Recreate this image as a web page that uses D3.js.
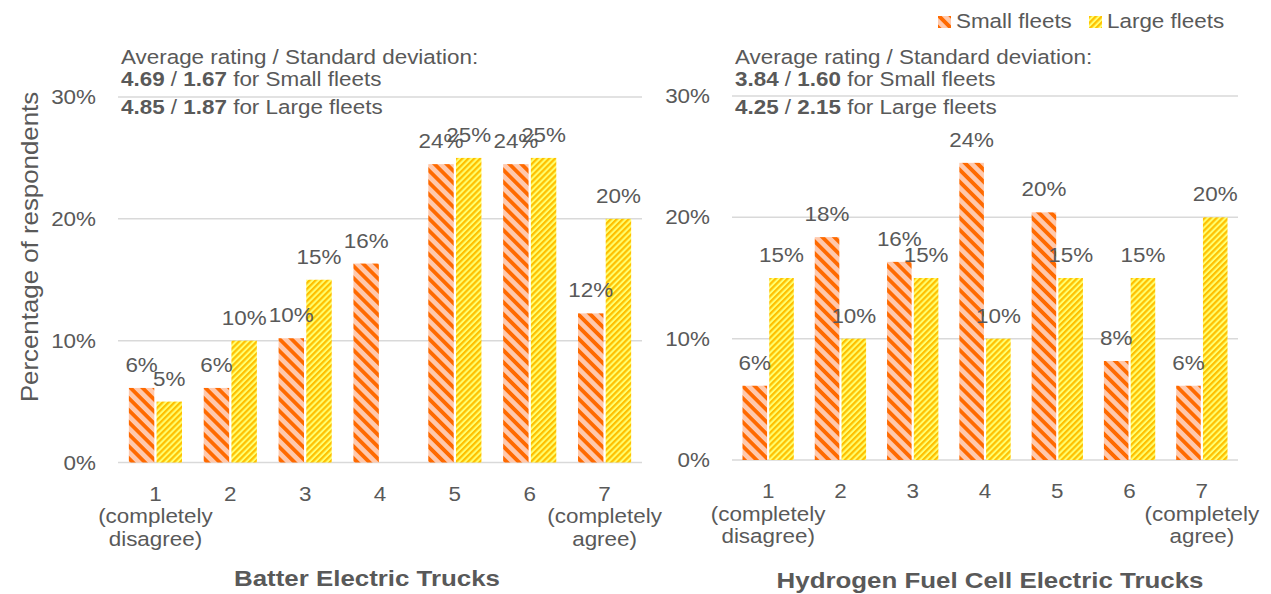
<!DOCTYPE html>
<html>
<head>
<meta charset="utf-8">
<script src="https://cdn.jsdelivr.net/npm/d3@7"></script>
<style>
  html, body { margin: 0; padding: 0; background: #ffffff; }
  svg { display: block; font-family: "Liberation Sans", Arial, sans-serif; }
</style>
</head>
<body>
<svg id="chart" width="1271" height="594"></svg>
<script>
// ---- data ----
const ratings = ["1", "2", "3", "4", "5", "6", "7"];
const ratingLabels = [
  ["1", "(completely", "disagree)"], ["2"], ["3"], ["4"], ["5"], ["6"],
  ["7", "(completely", "agree)"]
];
const seriesNames = ["Small fleets", "Large fleets"];
const batterySmall = [6.12, 6.12, 10.20, 16.33, 24.49, 24.49, 12.24];
const batteryLarge = [5, 10, 15, 0, 25, 25, 20];
const hydrogenSmall = [6.12, 18.37, 16.33, 24.49, 20.41, 8.16, 6.12];
const hydrogenLarge = [15, 10, 15, 10, 15, 15, 20];
const yTicks = [0, 10, 20, 30];
const batteryStats = [["4.69", "1.67"], ["4.85", "1.87"]];
const hydrogenStats = [["3.84", "1.60"], ["4.25", "2.15"]];
const panelTitles = ["Batter Electric Trucks", "Hydrogen Fuel Cell Electric Trucks"];

// ---- style ----
const TEXT = "#595959";
const GRID = "#d9d9d9";
const FS = 19.5;      // base font size
const SX = 1.15;      // horizontal widening of the lettering
const W = 1271, H = 594;

const svg = d3.select("#chart");
const defs = svg.append("defs");

// hatch fills for the two fleet sizes
function hatch(id, bg, fg, period, stripe, angle) {
  const p = defs.append("pattern")
    .attr("id", id)
    .attr("patternUnits", "userSpaceOnUse")
    .attr("width", period).attr("height", period)
    .attr("patternTransform", `rotate(${angle})`);
  p.append("rect").attr("width", period).attr("height", period).attr("fill", bg);
  p.append("rect").attr("width", period).attr("height", stripe).attr("fill", fg);
}
hatch("hatch-small", "#ffc9ad", "#ff6a00", 8.5, 3.8, 45);
hatch("hatch-large", "#ffff70", "#ffc000", 4.2, 2.2, -45);
const fills = { "Small fleets": "url(#hatch-small)", "Large fleets": "url(#hatch-large)" };

// text helper: widened lettering anchored at (x, y)
function txt(parent, x, y, s, opts = {}) {
  const rot = opts.rotate ? ` rotate(${opts.rotate})` : "";
  const sx = opts.sx || SX;
  return parent.append("text")
    .attr("transform", `translate(${x},${y})${rot} scale(${sx},1)`)
    .attr("text-anchor", opts.anchor || "middle")
    .attr("font-size", opts.size || FS)
    .attr("font-weight", opts.weight || "normal")
    .attr("fill", TEXT)
    .text(s);
}

const panels = [
  { small: batterySmall, large: batteryLarge, stats: batteryStats, title: panelTitles[0],
    x0: 118, x1: 642, yBase: 462.5, yTop: 97, titleX: 367, titleY: 586 },
  { small: hydrogenSmall, large: hydrogenLarge, stats: hydrogenStats, title: panelTitles[1],
    x0: 732, x1: 1238, yBase: 460, yTop: 96, titleX: 990, titleY: 588 }
];

const pct = d3.format(".0%");

panels.forEach(p => {
  const g = svg.append("g");
  const x = d3.scaleBand().domain(ratings).range([p.x0, p.x1]).paddingInner(0).paddingOuter(0);
  const bw = x.bandwidth();
  const barW = bw * 0.326, gap = bw * 0.058;
  const inner = d3.scaleBand().domain(seriesNames)
    .range([(bw - 2 * barW - gap) / 2, (bw + 2 * barW + gap) / 2])
    .paddingInner(gap / (2 * barW + gap)).paddingOuter(0);
  const y = d3.scaleLinear().domain([0, 30]).range([p.yBase, p.yTop]);

  // gridlines
  g.append("g").selectAll("line").data(yTicks).join("line")
    .attr("x1", p.x0).attr("x2", p.x1)
    .attr("y1", d => y(d)).attr("y2", d => y(d))
    .attr("stroke", GRID).attr("stroke-width", 1.5);

  // y tick labels
  yTicks.forEach(t => txt(g, p.x0 - 22, y(t) + FS * 0.36, pct(t / 100), { anchor: "end" }));

  // bars
  const rows = ratings.map((r, i) => ({ r, vals: [
    { s: seriesNames[0], v: p.small[i] }, { s: seriesNames[1], v: p.large[i] }] }));
  const groups = g.append("g").selectAll("g").data(rows).join("g")
    .attr("transform", d => `translate(${x(d.r)},0)`);
  groups.selectAll("rect").data(d => d.vals.filter(e => e.v > 0)).join("rect")
    .attr("x", d => inner(d.s)).attr("width", inner.bandwidth())
    .attr("y", d => y(d.v)).attr("height", d => y(0) - y(d.v))
    .attr("fill", d => fills[d.s]);

  // value labels
  rows.forEach(row => row.vals.filter(e => e.v > 0).forEach(e => {
    txt(g, x(row.r) + inner(e.s) + inner.bandwidth() / 2, y(e.v) - 16, pct(e.v / 100));
  }));

  // category labels (lines kept inside the right edge of the figure)
  ratings.forEach((r, i) => {
    ratingLabels[i].forEach((line, k) => {
      const ly = p.yBase + 38 + k * 22.5;
      const t = txt(g, x(r) + bw / 2, ly, line);
      const box = t.node().getBBox();
      const right = x(r) + bw / 2 + box.width * SX / 2;
      if (right > W - 9) {
        const cx = x(r) + bw / 2 - (right - (W - 9));
        t.attr("transform", `translate(${cx},${ly}) scale(${SX},1)`);
      }
    });
  });

  // summary statistics
  txt(g, p.x0 + 3, 64, "Average rating / Standard deviation:", { anchor: "start" });
  p.stats.forEach((st, k) => {
    const t = g.append("text")
      .attr("transform", `translate(${p.x0 + 3},${86 + k * 28}) scale(${SX},1)`)
      .attr("font-size", FS).attr("fill", TEXT);
    t.append("tspan").attr("font-weight", "bold").text(st[0]);
    t.append("tspan").text(" / ");
    t.append("tspan").attr("font-weight", "bold").text(st[1]);
    t.append("tspan").text(` for ${seriesNames[k]}`);
  });

  // panel title
  txt(g, p.titleX, p.titleY, p.title, { weight: "bold", size: 22.5 });
});

// y-axis title
txt(svg, 38, 247, "Percentage of respondents", { rotate: -90, size: 23.5, sx: 1.1 });

// legend
const legend = svg.append("g");
const legendItems = [{ s: seriesNames[0], x: 938 }, { s: seriesNames[1], x: 1089 }];
legendItems.forEach(it => {
  legend.append("rect").attr("x", it.x).attr("y", 16).attr("width", 13).attr("height", 12)
    .attr("fill", fills[it.s]);
  txt(legend, it.x + 18, 28, it.s, { anchor: "start" });
});
</script>
</body>
</html>
